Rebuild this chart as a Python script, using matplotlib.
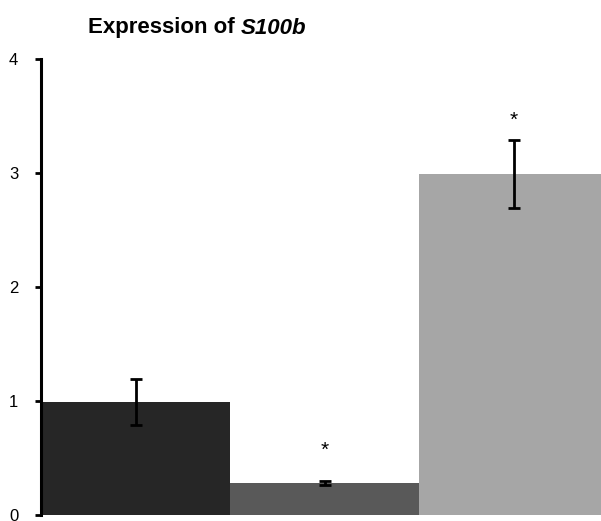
import matplotlib.pyplot as plt
import numpy as np

groups = ["A", "B", "C"]
values = [0.99, 0.28, 2.99]
errors = [0.20, 0.02, 0.30]
colors = ["#262626", "#595959", "#a6a6a6"]
stars = ["", "*", "*"]
star_y = [None, 0.57, 3.46]
yticks = [0, 1, 2, 3, 4]

fig = plt.figure(figsize=(6.01, 5.21), dpi=100)
ax = fig.add_axes([41 / 601, 6 / 521, 560 / 601, 456 / 521])

x = np.arange(len(groups))
ax.bar(x, values, width=1.0, color=colors, edgecolor="none")
ax.errorbar(x, values, yerr=errors, fmt="none", ecolor="black",
            elinewidth=2, capsize=4.5, capthick=2)
for xi, s, sy in zip(x, stars, star_y):
    if s:
        ax.text(xi, sy, s, ha="center", va="center", fontsize=15,
                family="Liberation Sans")

ax.set_xlim(-0.5, 2.46)
ax.set_ylim(0, 4)
ax.set_yticks(yticks)
ax.set_xticks([])
for side in ["top", "right", "bottom"]:
    ax.spines[side].set_visible(False)
ax.spines["left"].set_linewidth(2.2)
ax.tick_params(axis="y", length=4.3, width=2, pad=12, labelsize=12)
for lab in ax.get_yticklabels():
    lab.set_family("Liberation Sans")

t1 = fig.text(88 / 601, 1 - 28 / 521, "Expression of ", ha="left", va="center",
              fontsize=16, fontweight="bold", family="Liberation Sans")
fig.canvas.draw()
bb = t1.get_window_extent()
fig.text(bb.x1 / fig.bbox.width, 1 - 28 / 521, "S100b", ha="left", va="center",
         fontsize=16, fontweight="bold", fontstyle="italic",
         family="Liberation Sans")

fig.savefig("out.png", dpi=100)
